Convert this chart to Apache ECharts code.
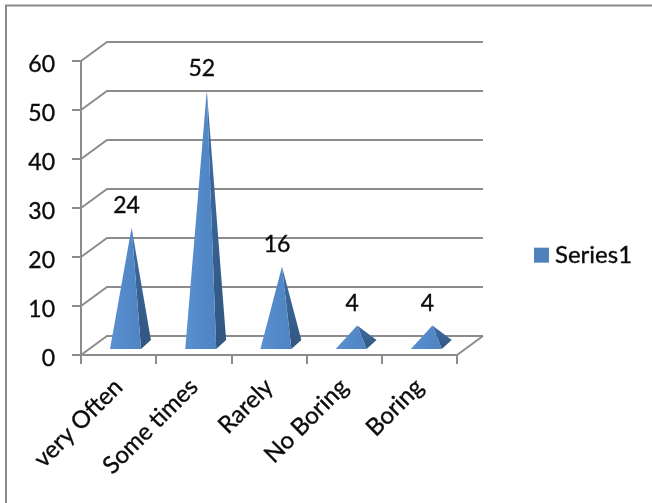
<!DOCTYPE html>
<html>
<head>
<meta charset="utf-8">
<style>html,body{margin:0;padding:0;background:#fff}#chart{width:652px;height:503px}</style>
<script src="https://cdn.jsdelivr.net/npm/echarts@6/dist/echarts.min.js"></script>
</head>
<body>
<div id="chart"></div>
<script>
const categories = ['very Often', 'Some times', 'Rarely', 'No Boring', 'Boring'];
const values = [24, 52, 16, 4, 4];
const yTicks = [0, 10, 20, 30, 40, 50, 60];
const seriesName = 'Series1';

const FONT = 'Lato';
const INK = '#0a0a0a';
const AXIS = '#8c8c8c';
const TEXT_WEIGHT = { textBorderColor: INK, textBorderWidth: 0.35 };
const DEPTH_X = 26, DEPTH_Y = 19;

const chart = echarts.init(document.getElementById('chart'));

// Side wall slants and back-wall gridlines of the pseudo-3D box
function renderWall(params, api) {
  const tick = api.value(0);
  const front = api.coord([0, tick]);
  const left = front[0] - api.size([1, 0])[0] / 2;
  const right = left + api.size([1, 0])[0] * categories.length;
  const y = front[1];
  const children = [{
    type: 'polyline',
    shape: { points: [[left, y], [left + DEPTH_X, y - DEPTH_Y], [right + DEPTH_X, y - DEPTH_Y]] },
    style: { stroke: AXIS, lineWidth: 2, fill: null }
  }];
  if (tick === 0) {
    children.push({
      type: 'line',
      shape: { x1: right, y1: y, x2: right + DEPTH_X, y2: y - DEPTH_Y },
      style: { stroke: AXIS, lineWidth: 2 }
    });
  }
  return { type: 'group', children };
}

// One pyramid: front face, shaded side face and its value label
function renderPyramid(params, api) {
  const value = api.value(1);
  const base = api.coord([api.value(0), 0]);
  const top = api.coord([api.value(0), value]);
  const band = api.size([1, 0])[0];
  const apex = [top[0] + DEPTH_X / 2, top[1] - 10];
  const frontY = base[1] - 6;
  const xl = base[0] - band * 0.114;
  const xr = base[0] + band * 0.298;
  const corner = [base[0] + band * 0.43, base[1] - 15];
  return {
    type: 'group',
    children: [{
      type: 'polygon',
      shape: { points: [[xr, frontY], corner, apex] },
      style: {
        fill: new echarts.graphic.LinearGradient(0, 0, 0, 1, [
          { offset: 0, color: '#3f6ea6' },
          { offset: 1, color: '#31567f' }
        ])
      }
    }, {
      type: 'polygon',
      shape: { points: [[xl, frontY], [xr, frontY], apex] },
      style: {
        fill: new echarts.graphic.LinearGradient(0, 0, 1, 0, [
          { offset: 0, color: '#5990d0' },
          { offset: 1, color: '#4f83c2' }
        ])
      }
    }, {
      type: 'text',
      style: {
        text: String(value),
        x: apex[0] - 5,
        y: apex[1] - 22,
        align: 'center',
        verticalAlign: 'middle',
        font: '23px ' + FONT,
        fill: INK,
        stroke: INK,
        lineWidth: 0.35
      }
    }]
  };
}

chart.setOption({
  animation: false,
  backgroundColor: '#fff',
  graphic: [{
    type: 'polyline',
    silent: true,
    z: -1,
    shape: { points: [[6, 503], [6, 5.5], [652, 5.5]] },
    style: { stroke: '#8a8a8a', lineWidth: 2, fill: null }
  }],
  grid: { left: 81, right: 195, top: 61, bottom: 148 },
  legend: {
    data: [seriesName],
    left: 529,
    top: 238,
    icon: 'rect',
    itemWidth: 15,
    itemHeight: 15,
    itemGap: 0,
    textStyle: { fontFamily: FONT, fontSize: 24, color: INK, padding: [0, 0, 0, 1], ...TEXT_WEIGHT }
  },
  xAxis: {
    type: 'category',
    data: categories,
    axisLine: { lineStyle: { color: AXIS, width: 2 } },
    axisTick: { show: true, length: 9, lineStyle: { color: AXIS, width: 2 } },
    axisLabel: { rotate: 45, interval: 0, margin: 28, fontFamily: FONT, fontSize: 24, color: INK, ...TEXT_WEIGHT }
  },
  yAxis: {
    type: 'value',
    min: 0,
    max: 60,
    interval: 10,
    splitLine: { show: false },
    axisLine: { show: true, lineStyle: { color: AXIS, width: 2 } },
    axisTick: { show: true, length: 9, lineStyle: { color: AXIS, width: 2 } },
    axisLabel: { margin: 26, verticalAlign: 'top', lineHeight: 8, fontFamily: FONT, fontSize: 23, color: INK, ...TEXT_WEIGHT }
  },
  series: [{
    type: 'custom',
    name: 'wall',
    silent: true,
    z: 1,
    clip: false,
    coordinateSystem: 'cartesian2d',
    renderItem: renderWall,
    encode: { y: 0 },
    data: yTicks.map(t => [t])
  }, {
    type: 'custom',
    name: seriesName,
    z: 2,
    clip: false,
    coordinateSystem: 'cartesian2d',
    renderItem: renderPyramid,
    itemStyle: { color: '#4f81bd' },
    encode: { x: 0, y: 1 },
    data: values.map((v, i) => [i, v])
  }]
});
</script>
</body>
</html>
